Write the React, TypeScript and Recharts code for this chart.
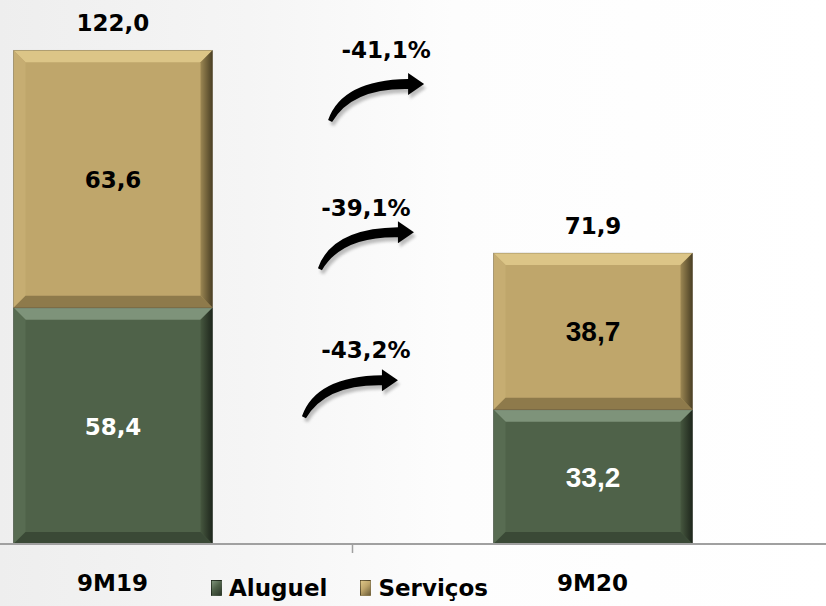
import React from 'react';
import { BarChart, Bar, XAxis, YAxis, LabelList, Legend, ReferenceDot } from 'recharts';

// ---- data ----
const categories = ['9M19', '9M20'];
const aluguel = [58.4, 33.2];
const servicos = [63.6, 38.7];
const seriesNames = ['Aluguel', 'Serviços'];
const changeLabels = ['-41,1%', '-39,1%', '-43,2%'];

const data = categories.map((name, i) => ({
  idx: i,
  name,
  aluguel: aluguel[i],
  servicos: servicos[i],
  total: Math.round((aluguel[i] + servicos[i]) * 10) / 10,
}));

// ---- layout constants ----
const W = 826;
const H = 606;
const FONT = '"DejaVu Sans", sans-serif';
const FONT2 = '"Liberation Sans", Arial, sans-serif';
const fmt = (v: number) => v.toFixed(1).replace('.', ',');

// annotation anchors (data units: x position on numeric category axis, y value)
const anchors = [
  { x: 0.57, y: 122.1, tdx: -58, tdy: 70 },
  { x: 0.528, y: 83.0, tdx: -48, tdy: 60 },
  { x: 0.528, y: 47.9, tdx: -64, tdy: 66 },
];

const palettes: Record<string, any> = {
  aluguel: { base: '#4F6249', top: '#7E937A', left: '#586C52', right: '#2C382A', bottom: '#3A4936' },
  servicos: { base: '#BFA66B', top: '#DCC587', left: '#C6AD72', right: '#6E5F39', bottom: '#8E7A4B' },
};

const makeBevel = (key: string) => (props: any) => {
  const { x, y, width, height } = props;
  if (width == null || height == null || height <= 0) return null;
  const p = palettes[key];
  const b = Math.min(12, height / 2, width / 2);
  const x2 = x + width;
  const y2 = y + height;
  return (
    <g>
      <rect x={x} y={y} width={width} height={height} fill={p.base} />
      <polygon points={`${x},${y} ${x2},${y} ${x2 - b},${y + b} ${x + b},${y + b}`} fill={p.top} />
      <polygon points={`${x},${y} ${x + b},${y + b} ${x + b},${y2 - b} ${x},${y2}`} fill={p.left} />
      <polygon points={`${x2},${y} ${x2},${y2} ${x2 - b},${y2 - b} ${x2 - b},${y + b}`} fill={`url(#right-${key})`} />
      <polygon points={`${x},${y2} ${x + b},${y2 - b} ${x2 - b},${y2 - b} ${x2},${y2}`} fill={p.bottom} />
      <rect x={x} y={y} width={width} height={height} fill="none" stroke="rgba(0,0,0,0.25)" strokeWidth={0.8} />
    </g>
  );
};

const arrowPath = 'M0,0 Q14,-40 80,-41 L80,-47 L96,-36 L80,-25 L80,-31 Q24,-32 4,2 Z';

const makeArrow = (label: string, tdx: number, tdy: number) => (props: any) => {
  const { cx, cy } = props;
  if (cx == null || cy == null) return null;
  return (
    <g>
      <text x={cx} y={cy} dy={8} textAnchor="middle" fontFamily={FONT} fontWeight="bold" fontSize={23} fill="#000">
        {label}
      </text>
      <g transform={`translate(${cx + tdx + 2},${cy + tdy + 4})`}>
        <path d={arrowPath} fill="#8a8a8a" opacity={0.55} filter="url(#blur)" />
      </g>
      <g transform={`translate(${cx + tdx},${cy + tdy})`}>
        <path d={arrowPath} fill="#000" />
      </g>
    </g>
  );
};

const CatTick = (props: any) => {
  const { x, y, payload } = props;
  const v = payload?.value;
  if (v === 0.5) {
    return <line x1={x} y1={y} x2={x} y2={y + 9} stroke="#A0A0A0" strokeWidth={1.5} />;
  }
  const i = Math.round(v);
  if (Math.abs(v - i) > 1e-6 || !categories[i]) return null;
  return (
    <text x={x} y={y} dy={47} textAnchor="middle" fontFamily={FONT} fontWeight="bold" fontSize={23} fill="#000">
      {categories[i]}
    </text>
  );
};

const renderInner = (dark: boolean) => (props: any) => {
  const { x, y, width, height, value, index } = props;
  const second = index === 1;
  return (
    <text
      x={x + width / 2}
      y={y + height / 2}
      dy={second ? 10 : 9}
      textAnchor="middle"
      fontFamily={second ? FONT2 : FONT}
      fontWeight="bold"
      fontSize={second ? 28 : 23}
      fill={dark ? '#000' : '#fff'}
    >
      {fmt(value)}
    </text>
  );
};

const renderTotal = (props: any) => {
  const { x, y, width, value } = props;
  return (
    <text x={x + width / 2} y={y} dy={-19} textAnchor="middle" fontFamily={FONT} fontWeight="bold" fontSize={23} fill="#000">
      {fmt(value)}
    </text>
  );
};

const renderLegend = (props: any) => {
  const { payload } = props;
  return (
    <div style={{ display: 'flex', alignItems: 'center', fontFamily: FONT, fontWeight: 'bold', fontSize: 23, color: '#000', lineHeight: '28px' }}>
      {(payload || []).map((p: any, i: number) => {
        const key = p.dataKey as string;
        const pal = palettes[key] || palettes.aluguel;
        return (
          <span key={i} style={{ display: 'flex', alignItems: 'center', marginRight: i === 0 ? 33 : 0 }}>
            <span
              style={{
                display: 'inline-block',
                width: 11,
                height: 16,
                marginRight: 7,
                background: `linear-gradient(135deg, ${pal.top} 0%, ${pal.base} 45%, ${pal.right} 100%)`,
                border: '1px solid rgba(0,0,0,0.3)',
                boxSizing: 'border-box',
              }}
            />
            {p.value}
          </span>
        );
      })}
    </div>
  );
};

export default function App() {
  return (
    <div
      style={{
        position: 'absolute',
        left: 0,
        top: 0,
        width: W,
        height: H,
        background: 'linear-gradient(90deg, #eeeeee 0%, #f5f5f5 30%, #fdfdfd 55%, #ffffff 100%)',
      }}
    >
      <BarChart width={W} height={H} data={data} margin={{ top: 18, right: 0, bottom: 0, left: 0 }}>
        <defs>
          <linearGradient id="right-aluguel" x1="0" y1="0" x2="1" y2="0">
            <stop offset="0%" stopColor="#46573F" />
            <stop offset="100%" stopColor="#1E261C" />
          </linearGradient>
          <linearGradient id="right-servicos" x1="0" y1="0" x2="1" y2="0">
            <stop offset="0%" stopColor="#9C8753" />
            <stop offset="100%" stopColor="#4A3F24" />
          </linearGradient>
          <filter id="blur" x="-20%" y="-20%" width="140%" height="140%">
            <feGaussianBlur stdDeviation="1.5" />
          </filter>
        </defs>
        <XAxis
          dataKey="idx"
          type="number"
          domain={[-112.5 / 480, (W - 112.5) / 480]}
          allowDataOverflow
          ticks={[0, 0.5, 1]}
          interval={0}
          tickLine={false}
          tickSize={0}
          tickMargin={0}
          height={62}
          axisLine={{ stroke: '#A0A0A0', strokeWidth: 2 }}
          tick={<CatTick />}
        />
        <YAxis hide domain={[0, 130]} allowDataOverflow />
        <Legend
          verticalAlign="middle"
          align="center"
          content={renderLegend}
          wrapperStyle={{ position: 'absolute', left: 211, top: 574, width: 'auto', height: 'auto' }}
        />
        <Bar
          dataKey="aluguel"
          name={seriesNames[0]}
          stackId="a"
          barSize={199}
          fill={palettes.aluguel.base}
          shape={makeBevel('aluguel')}
          isAnimationActive={false}
        >
          <LabelList dataKey="aluguel" content={renderInner(false)} />
        </Bar>
        <Bar
          dataKey="servicos"
          name={seriesNames[1]}
          stackId="a"
          barSize={199}
          fill={palettes.servicos.base}
          shape={makeBevel('servicos')}
          isAnimationActive={false}
        >
          <LabelList dataKey="servicos" content={renderInner(true)} />
          <LabelList dataKey="total" content={renderTotal} />
        </Bar>
        {anchors.map((a, i) => (
          <ReferenceDot
            key={i}
            x={a.x}
            y={a.y}
            r={0}
            ifOverflow="visible"
            shape={makeArrow(changeLabels[i], a.tdx, a.tdy)}
          />
        ))}
      </BarChart>
    </div>
  );
}
